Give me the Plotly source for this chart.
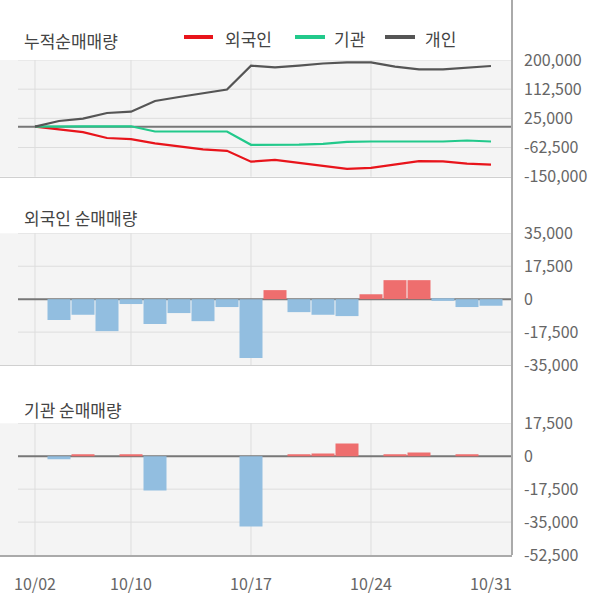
import plotly.graph_objects as go
from plotly.subplots import make_subplots

dates = ["10/02", "10/04", "10/07", "10/08", "10/10", "10/11", "10/14", "10/15", "10/16", "10/17",
         "10/18", "10/21", "10/22", "10/23", "10/24", "10/25", "10/28", "10/29", "10/30", "10/31"]

foreign_cum = [0, -9000, -16500, -34000, -37500, -50000, -58500, -68000, -72500, -105000,
               -99500, -108500, -118000, -126500, -123500, -114500, -103500, -104000, -110500, -114000]
inst_cum = [0, 1200, 1200, 1200, 1200, -14500, -14500, -14500, -14500, -54300,
            -54300, -54000, -51300, -45500, -44400, -44400, -44400, -44400, -41400, -44400]
person_cum = [0, 17000, 24000, 41000, 45000, 77000, 89000, 100000, 111500, 183000,
              178000, 183000, 189500, 193000, 193000, 180000, 172000, 172000, 177000, 182000]

foreign_net = [0, -11100, -8300, -17000, -2600, -13200, -7400, -11700, -4200, -31300,
               4800, -6900, -8300, -9000, 2600, 10100, 10100, -900, -4200, -3500]
inst_net = [0, -1600, 900, 0, 900, -18200, 0, 0, 0, -37300,
            0, 900, 1400, 6700, 0, 900, 2000, 0, 900, 0]

top_ticks = [200000, 112500, 25000, -62500, -150000]
mid_ticks = [35000, 17500, 0, -17500, -35000]
bot_ticks = [17500, 0, -17500, -35000, -52500]
x_label_dates = ["10/02", "10/10", "10/17", "10/24", "10/31"]
x_grid_dates = ["10/02", "10/10", "10/17", "10/24"]

RED = "#e8141b"
GREEN = "#22c98b"
GRAY = "#555555"
BAR_POS = "#ee6e6e"
BAR_NEG = "#92bee0"
FONT = "Noto Sans CJK KR"

fig = make_subplots(rows=3, cols=1, shared_xaxes=True)

fig.add_trace(go.Scatter(x=dates, y=foreign_cum, mode="lines", name="외국인",
                         line=dict(color=RED, width=2.2)), row=1, col=1)
fig.add_trace(go.Scatter(x=dates, y=inst_cum, mode="lines", name="기관",
                         line=dict(color=GREEN, width=2.2)), row=1, col=1)
fig.add_trace(go.Scatter(x=dates, y=person_cum, mode="lines", name="개인",
                         line=dict(color=GRAY, width=2.2)), row=1, col=1)

fig.add_trace(go.Bar(x=dates, y=foreign_net,
                     marker=dict(color=[BAR_POS if v > 0 else BAR_NEG for v in foreign_net], line=dict(width=0)),
                     showlegend=False), row=2, col=1)
fig.add_trace(go.Bar(x=dates, y=inst_net,
                     marker=dict(color=[BAR_POS if v > 0 else BAR_NEG for v in inst_net], line=dict(width=0)),
                     showlegend=False), row=3, col=1)

W, H = 600, 604
PW = 512
PH = 555
x_range = [-35 / 24, -35 / 24 + PW / 24]

domains = {1: [1 - 176.7 / PH, 1 - 60 / PH],
           2: [1 - 365 / PH, 1 - 233.3 / PH],
           3: [0, 1 - 423.3 / PH]}
ranges = {1: [-150000, 200000], 2: [-35000, 35000], 3: [-52500, 17500]}
ticks = {1: top_ticks, 2: mid_ticks, 3: bot_ticks}

tickfont = dict(family=FONT, size=16, color="#666666")

for r in (1, 2, 3):
    fig.update_yaxes(row=r, col=1, domain=domains[r], range=ranges[r], side="right",
                     tickvals=ticks[r], ticktext=[f"{v:,}" for v in ticks[r]],
                     showgrid=False, zeroline=False, ticks="", ticklabelstandoff=11,
                     tickfont=tickfont, fixedrange=True, automargin=False)
    fig.update_xaxes(row=r, col=1, type="category", range=x_range,
                     tickvals=x_label_dates, ticktext=x_label_dates,
                     showgrid=False, ticks="", zeroline=False,
                     showline=True,
                     linecolor="#aaaaaa" if r == 3 else "#d0d0d0",
                     linewidth=2 if r == 3 else 1,
                     showticklabels=(r == 3), ticklabelstandoff=14,
                     tickfont=tickfont, automargin=False)

shapes = []
axis_ids = {1: "y", 2: "y2", 3: "y3"}
xaxis_ids = {1: "x", 2: "x2", 3: "x3"}
for r in (1, 2, 3):
    for v in ticks[r]:
        if v == ranges[r][0] or v == 0:
            continue
        shapes.append(dict(type="line", xref=f"{xaxis_ids[r]} domain", x0=18 / PW, x1=1,
                           yref=axis_ids[r], y0=v, y1=v, layer="below",
                           line=dict(color="#dddddd", width=1)))
    for d in x_grid_dates:
        shapes.append(dict(type="line", xref=xaxis_ids[r], x0=d, x1=d,
                           yref=f"{axis_ids[r]} domain", y0=0, y1=1, layer="below",
                           line=dict(color="#dddddd", width=1)))
    shapes.append(dict(type="line", xref=f"{xaxis_ids[r]} domain", x0=18 / PW, x1=1,
                       yref=axis_ids[r], y0=0, y1=0, layer="below",
                       line=dict(color="#777777", width=2)))

shapes.append(dict(type="line", xref="paper", x0=1, x1=1, yref="paper", y0=0, y1=1,
                   line=dict(color="#aaaaaa", width=2)))

legend_items = [("외국인", RED, 184, 213, 223), ("기관", GREEN, 295, 325, 332), ("개인", GRAY, 385, 415, 423)]
annotations = []
for name, col, x0, x1, tx in legend_items:
    ly = (PH - 37) / PH
    shapes.append(dict(type="line", xref="paper", yref="paper",
                       x0=x0 / PW, x1=x1 / PW, y0=ly, y1=ly,
                       line=dict(color=col, width=4)))
    annotations.append(dict(text=name, xref="paper", yref="paper", x=tx / PW, y=(PH - 39) / PH,
                            xanchor="left", yanchor="middle", showarrow=False,
                            font=dict(family=FONT, size=17, color="#444444")))

titles = [("누적순매매량", 40), ("외국인 순매매량", 217), ("기관 순매매량", 409)]
for t, yc in titles:
    annotations.append(dict(text=t, xref="paper", yref="paper", x=22 / PW, y=(PH - yc) / PH,
                            xanchor="left", yanchor="middle", showarrow=False,
                            font=dict(family=FONT, size=17, color="#444444")))

fig.update_layout(width=W, height=H, margin=dict(l=0, r=W - PW, t=0, b=H - PH, autoexpand=False),
                  paper_bgcolor="white", plot_bgcolor="#f4f4f4",
                  showlegend=False, bargap=1 / 24, barmode="relative",
                  shapes=shapes, annotations=annotations,
                  font=dict(family=FONT))

fig.write_html("out.html")
